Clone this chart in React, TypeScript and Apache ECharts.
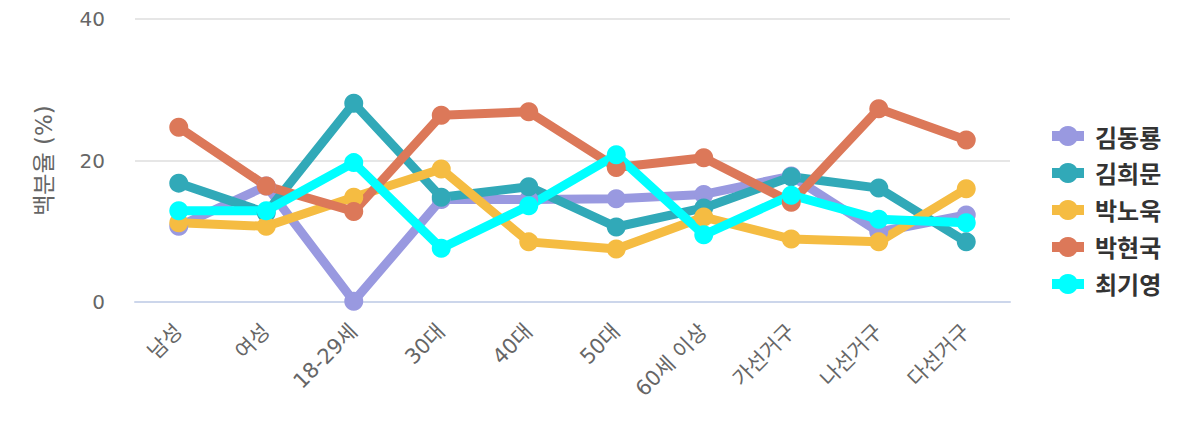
import React, { useEffect, useRef } from "react";
import * as echarts from "echarts";

const categories = ["남성", "여성", "18-29세", "30대", "40대", "50대", "60세 이상", "가선거구", "나선거구", "다선거구"];
const seriesNames = ["김동룡", "김희문", "박노욱", "박현국", "최기영"];
const colors = ["#9999e0", "#31a9b8", "#f5bc42", "#dc7859", "#00ffff"];
const kimDongryong = [10.7, 16.4, 0.1, 14.5, 14.5, 14.6, 15.2, 17.8, 9.9, 12.3];
const kimHuimun = [16.8, 12.6, 28.1, 14.8, 16.3, 10.6, 13.3, 17.7, 16.1, 8.5];
const parkNouk = [11.2, 10.7, 14.8, 18.8, 8.5, 7.5, 12.0, 8.9, 8.5, 16.0];
const parkHyeonguk = [24.7, 16.4, 12.8, 26.4, 26.9, 19.0, 20.4, 14.1, 27.3, 22.9];
const choiGiyeong = [12.9, 12.9, 19.7, 7.6, 13.6, 20.8, 9.5, 15.1, 11.7, 11.2];
const yTicks = { min: 0, max: 40, interval: 20 };

const allData = [kimDongryong, kimHuimun, parkNouk, parkHyeonguk, choiGiyeong];

export default function App() {
  const ref = useRef<HTMLDivElement>(null);
  useEffect(() => {
    if (!ref.current) return;
    const chart = echarts.init(ref.current, undefined, { renderer: "svg" });
    const font = "'DejaVu Sans', 'Noto Sans CJK KR', sans-serif";
    const legendFont = "'Noto Sans CJK KR', 'Noto Sans', sans-serif";
    chart.setOption({
      animation: false,
      color: colors,
      textStyle: { fontFamily: font },
      grid: { left: 135, right: 190, top: 19, bottom: 138, containLabel: false },
      legend: {
        orient: "vertical",
        left: 1042,
        top: 119,
        itemGap: 13,
        itemWidth: 32,
        itemHeight: 25,
        lineStyle: { width: 10 },
        textStyle: { fontSize: 24, fontWeight: "bold", color: "#333", fontFamily: legendFont, padding: [0, 0, 0, 6] },
        data: seriesNames,
      },
      xAxis: {
        type: "category",
        data: categories,
        boundaryGap: true,
        axisLine: { show: true, lineStyle: { color: "#ccd6eb", width: 2 } },
        axisTick: { show: false },
        axisLabel: { rotate: 45, fontSize: 21, color: "#666", margin: 26, interval: 0, fontFamily: font },
      },
      yAxis: {
        type: "value",
        min: yTicks.min,
        max: yTicks.max,
        interval: yTicks.interval,
        name: "백분율 (%)",
        nameLocation: "middle",
        nameRotate: 90,
        nameGap: 80,
        nameTextStyle: { fontSize: 23, color: "#666", fontFamily: font },
        axisLine: { show: false },
        axisTick: { show: false },
        axisLabel: { fontSize: 20, color: "#666", margin: 30, fontFamily: font },
        splitLine: { lineStyle: { color: "#e6e6e6", width: 2 } },
      },
      series: seriesNames.map((name, i) => ({
        name,
        type: "line",
        data: allData[i],
        symbol: "circle",
        symbolSize: 19,
        lineStyle: { width: 9, color: colors[i] },
        itemStyle: { color: colors[i] },
      })),
    });
    return () => chart.dispose();
  }, []);
  return <div ref={ref} style={{ position: "absolute", left: 0, top: 0, width: 1200, height: 440 }} />;
}
